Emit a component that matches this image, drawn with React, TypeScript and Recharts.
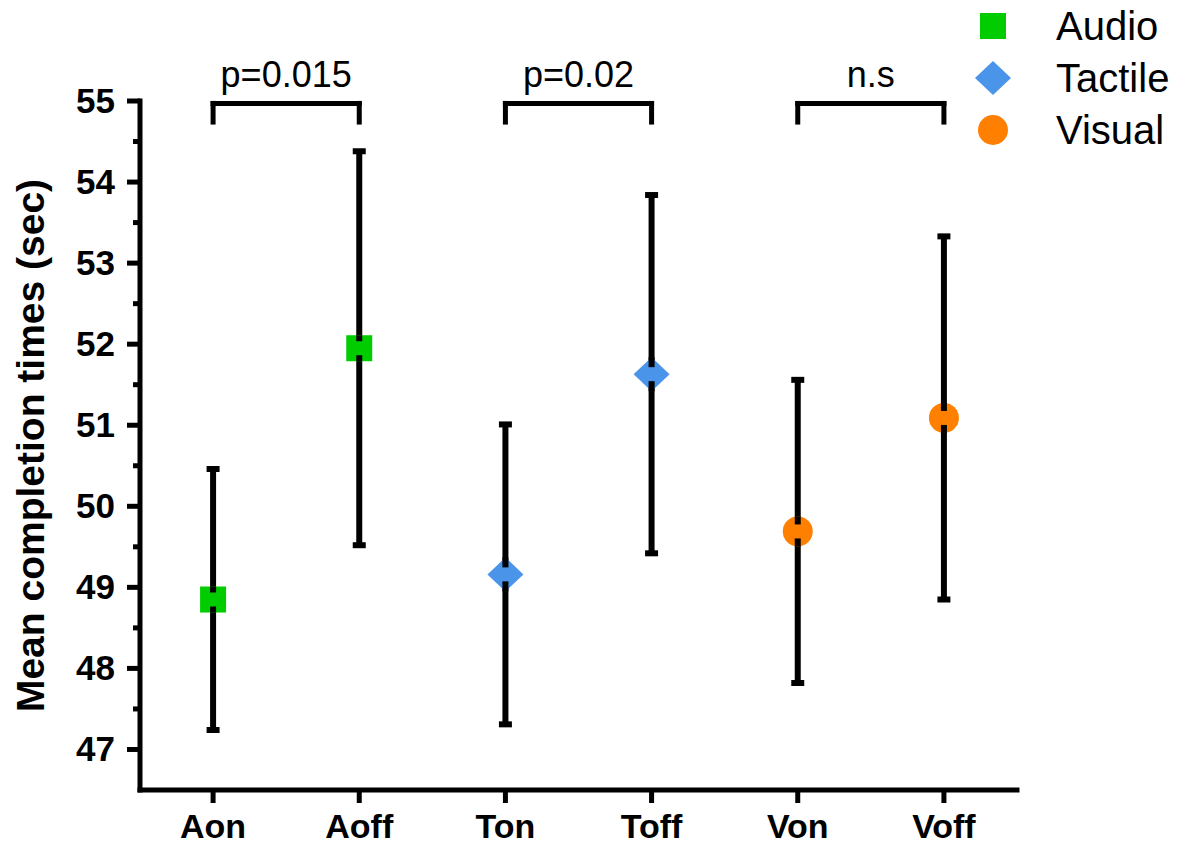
import React from 'react';
import { ComposedChart, Line, XAxis, YAxis, ErrorBar, ReferenceLine, Legend } from 'recharts';

const FONT = '"Liberation Sans", Arial, Helvetica, sans-serif';

// Categories (x axis) and their group
const categories = ['Aon', 'Aoff', 'Ton', 'Toff', 'Von', 'Voff'];
const groups = ['Audio', 'Audio', 'Tactile', 'Tactile', 'Visual', 'Visual'];

// Mean completion times (sec) and error (±)
const means = [48.85, 51.95, 49.16, 51.63, 49.69, 51.09];
const errors = [1.61, 2.43, 1.85, 2.21, 1.87, 2.24];

// Series / legend
const seriesNames = ['Audio', 'Tactile', 'Visual'];
const seriesColors = ['#00CC00', '#4A94EA', '#FF8000'];

// Y axis ticks (major integers with minor halves)
const yTicks = [47, 47.5, 48, 48.5, 49, 49.5, 50, 50.5, 51, 51.5, 52, 52.5, 53, 53.5, 54, 54.5, 55];
const yDomain = [46.5, 55];

// Significance brackets
const bracketFrom = ['Aon', 'Ton', 'Von'];
const bracketTo = ['Aoff', 'Toff', 'Voff'];
const bracketLabels = ['p=0.015', 'p=0.02', 'n.s'];
const bracketTop = 54.97;
const bracketLeg = 54.74;

const data = categories.map((name, i) => {
  const row: any = { name };
  seriesNames.forEach((s) => {
    row[s] = groups[i] === s ? means[i] : null;
    row[s + 'Err'] = groups[i] === s ? errors[i] : null;
  });
  return row;
});

const markerHalf: Record<string, number> = { Audio: 13, Tactile: 17, Visual: 15 };

function marker(series: string, cx: number, cy: number, color: string) {
  if (series === 'Audio') {
    return <rect x={cx - 13} y={cy - 13} width={26} height={26} fill={color} />;
  }
  if (series === 'Tactile') {
    return (
      <polygon
        points={`${cx},${cy - 17} ${cx + 18},${cy} ${cx},${cy + 17} ${cx - 18},${cy}`}
        fill={color}
      />
    );
  }
  return <circle cx={cx} cy={cy} r={15} fill={color} />;
}

const makeDot = (series: string, color: string) => (props: any) => {
  const { cx, cy, index } = props;
  if (cx == null || cy == null || Number.isNaN(cy)) return <g key={`d-${series}-${index}`} />;
  const h = markerHalf[series];
  return (
    <g key={`d-${series}-${index}`}>
      {marker(series, cx, cy, color)}
      <rect x={cx - 3} y={cy - h} width={6} height={h - 7} fill="#000" />
      <rect x={cx - 3} y={cy + 7} width={6} height={h - 7} fill="#000" />
    </g>
  );
};

const YTick = (props: any) => {
  const { x, y, payload } = props;
  const v = payload.value;
  const major = Number.isInteger(v);
  return (
    <g>
      <line x1={x - (major ? 13 : 7)} x2={x} y1={y} y2={y} stroke="#000" strokeWidth={5} />
      {major && (
        <text
          x={x - 25}
          y={y}
          dy={12}
          textAnchor="end"
          fontSize={35}
          fontWeight="bold"
          fontFamily={FONT}
          fill="#000"
        >
          {v}
        </text>
      )}
    </g>
  );
};

const YLabel = (props: any) => {
  const vb = props.viewBox || { x: 0, y: 101, width: 140, height: 689 };
  const x = vb.x + 44;
  const y = vb.y + vb.height / 2;
  return (
    <text
      x={x}
      y={y}
      transform={`rotate(-90 ${x} ${y})`}
      textAnchor="middle"
      fontSize={39}
      fontWeight="bold"
      fontFamily={FONT}
      fill="#000"
    >
      Mean completion times (sec)
    </text>
  );
};

const LegendContent = () => (
  <div style={{ fontFamily: FONT }}>
    {seriesNames.map((s, i) => (
      <div key={s} style={{ display: 'flex', alignItems: 'center', height: 52 }}>
        <svg width={50} height={52} style={{ display: 'block' }}>
          {marker(s, 25, 26, seriesColors[i])}
        </svg>
        <span style={{ marginLeft: 38, fontSize: 40, lineHeight: '52px', color: '#000', whiteSpace: 'nowrap' }}>
          {s}
        </span>
      </div>
    ))}
  </div>
);

export default function App() {
  return (
    <div style={{ position: 'absolute', left: 0, top: 0, background: '#fff', fontFamily: FONT }}>
      <ComposedChart
        width={1199}
        height={846}
        data={data}
        margin={{ top: 101, right: 182, left: 0, bottom: 0 }}
      >
        <XAxis
          dataKey="name"
          type="category"
          scale="band"
          interval={0}
          height={56}
          tickSize={13}
          tickMargin={11}
          axisLine={{ stroke: '#000', strokeWidth: 5, strokeLinecap: 'square' }}
          tickLine={{ stroke: '#000', strokeWidth: 5 }}
          tick={{ fontSize: 34, fontWeight: 'bold', fill: '#000', fontFamily: FONT }}
        />
        <YAxis
          type="number"
          domain={yDomain}
          ticks={yTicks}
          interval={0}
          width={140}
          tickSize={0}
          tickMargin={0}
          tickLine={false}
          axisLine={{ stroke: '#000', strokeWidth: 5, strokeLinecap: 'square' }}
          tick={<YTick />}
          label={YLabel}
          allowDataOverflow
        />
        {bracketFrom.map((from, i) => (
          <ReferenceLine
            key={`bh-${i}`}
            segment={[
              { x: from, y: bracketTop },
              { x: bracketTo[i], y: bracketTop },
            ]}
            stroke="#000"
            strokeWidth={5}
            strokeLinecap="square"
            ifOverflow="visible"
            label={(p: any) => {
              const vb = p.viewBox;
              return (
                <text
                  x={vb.x + vb.width / 2}
                  y={vb.y - 16}
                  textAnchor="middle"
                  fontSize={36}
                  fontFamily={FONT}
                  fill="#000"
                >
                  {bracketLabels[i]}
                </text>
              );
            }}
          />
        ))}
        {bracketFrom.map((from, i) => (
          <ReferenceLine
            key={`bl-${i}`}
            segment={[
              { x: from, y: bracketTop },
              { x: from, y: bracketLeg },
            ]}
            stroke="#000"
            strokeWidth={5}
            strokeLinecap="square"
            ifOverflow="visible"
          />
        ))}
        {bracketTo.map((to, i) => (
          <ReferenceLine
            key={`br-${i}`}
            segment={[
              { x: to, y: bracketTop },
              { x: to, y: bracketLeg },
            ]}
            stroke="#000"
            strokeWidth={5}
            strokeLinecap="square"
            ifOverflow="visible"
          />
        ))}
        {seriesNames.map((s, i) => (
          <Line
            key={s}
            dataKey={s}
            name={s}
            stroke="none"
            isAnimationActive={false}
            dot={makeDot(s, seriesColors[i])}
            activeDot={false}
            connectNulls={false}
          >
            <ErrorBar
              dataKey={s + 'Err'}
              direction="y"
              width={6.5}
              stroke="#000"
              strokeWidth={6}
              isAnimationActive={false}
            />
          </Line>
        ))}
        <Legend
          layout="horizontal"
          verticalAlign="middle"
          align="center"
          wrapperStyle={{ top: 0, left: 968, width: 231 }}
          content={() => <LegendContent />}
        />
      </ComposedChart>
    </div>
  );
}
